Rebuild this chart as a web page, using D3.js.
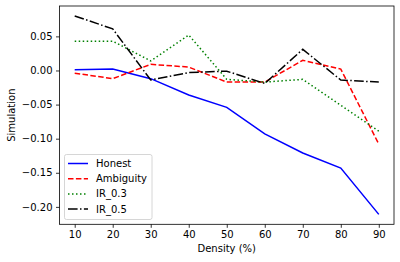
<!DOCTYPE html>
<html>
<head>
<meta charset="utf-8">
<script src="https://cdn.jsdelivr.net/npm/d3@7"></script>
<style>
  body { margin: 0; background: #fff; }
  svg { font-family: "DejaVu Sans", sans-serif; }
</style>
</head>
<body>
<svg id="chart" width="400" height="262"></svg>
<script>
// data
var density = [10, 20, 30, 40, 50, 60, 70, 80, 90];
var honest    = [0.001, 0.002, -0.012, -0.036, -0.054, -0.093, -0.121, -0.143, -0.211];
var ambiguity = [-0.004, -0.012, 0.009, 0.005, -0.017, -0.017, 0.015, 0.002, -0.108];
var ir03      = [0.043, 0.043, 0.014, 0.052, -0.013, -0.017, -0.013, -0.051, -0.089];
var ir05      = [0.080, 0.061, -0.014, -0.003, -0.001, -0.019, 0.031, -0.014, -0.017];
var xTicks = [10, 20, 30, 40, 50, 60, 70, 80, 90];
var yTicks = [0.05, 0.00, -0.05, -0.10, -0.15, -0.20];

var series = [
  {name: "Honest", values: honest, color: "blue", dash: null},
  {name: "Ambiguity", values: ambiguity, color: "red", dash: "5.5,2.4"},
  {name: "IR_0.3", values: ir03, color: "green", dash: "1.5,2.5"},
  {name: "IR_0.5", values: ir05, color: "black", dash: "9.6,2.4,1.5,2.4"}
];

var svg = d3.select("#chart");
var plotL = 59.5, plotR = 394, plotT = 6, plotB = 224.3;

// matplotlib style 5% margins
var xMin = d3.min(density), xMax = d3.max(density);
var xPad = (xMax - xMin) * 0.05;
var allVals = [].concat(honest, ambiguity, ir03, ir05);
var yMin = d3.min(allVals), yMax = d3.max(allVals);
var yPad = (yMax - yMin) * 0.05;

var x = d3.scaleLinear().domain([xMin - xPad, xMax + xPad]).range([plotL, plotR]);
var y = d3.scaleLinear().domain([yMin - yPad, yMax + yPad]).range([plotB, plotT]);

var fmt = function (d) { return d3.format(".2f")(d).replace("-", "\u2212"); };

// axes
var gx = svg.append("g")
  .attr("transform", "translate(0," + plotB + ")")
  .call(d3.axisBottom(x).tickValues(xTicks).tickSize(3.5).tickPadding(3.5));
var gy = svg.append("g")
  .attr("transform", "translate(" + plotL + ",0)")
  .call(d3.axisLeft(y).tickValues(yTicks).tickSize(3.5).tickPadding(3.5).tickFormat(fmt));

[gx, gy].forEach(function (g) {
  g.select(".domain").remove();
  g.selectAll("line").attr("stroke", "#000").attr("stroke-width", 0.8);
  g.selectAll("text").attr("fill", "#000").style("font-size", "10px")
    .style("font-family", "DejaVu Sans");
});

// lines
var line = d3.line()
  .x(function (d, i) { return x(density[i]); })
  .y(function (d) { return y(d); });

svg.append("g").selectAll("path")
  .data(series)
  .enter()
  .append("path")
  .attr("d", function (s) { return line(s.values); })
  .attr("fill", "none")
  .attr("stroke", function (s) { return s.color; })
  .attr("stroke-width", 1.5)
  .attr("stroke-dasharray", function (s) { return s.dash; });

// frame
svg.append("rect")
  .attr("x", plotL).attr("y", plotT)
  .attr("width", plotR - plotL).attr("height", plotB - plotT)
  .attr("fill", "none").attr("stroke", "#000").attr("stroke-width", 0.8);

// axis labels
svg.append("text")
  .attr("x", (plotL + plotR) / 2).attr("y", 252)
  .attr("text-anchor", "middle")
  .style("font-size", "10px")
  .text("Density (%)");
svg.append("text")
  .attr("transform", "translate(15," + ((plotT + plotB) / 2) + ") rotate(-90)")
  .attr("text-anchor", "middle")
  .style("font-size", "10px")
  .text("Simulation");

// legend
var lg = svg.append("g");
lg.append("rect")
  .attr("x", 64.5).attr("y", 154.5).attr("width", 87.5).attr("height", 65)
  .attr("rx", 2)
  .attr("fill", "#fff").attr("fill-opacity", 0.8)
  .attr("stroke", "#ccc").attr("stroke-width", 0.8);
var item = lg.selectAll("g.item")
  .data(series)
  .enter()
  .append("g")
  .attr("class", "item")
  .attr("transform", function (d, i) { return "translate(0," + (163.5 + i * 15.2) + ")"; });
item.append("line")
  .attr("x1", 68).attr("x2", 88)
  .attr("stroke", function (s) { return s.color; })
  .attr("stroke-width", 1.5)
  .attr("stroke-dasharray", function (s) { return s.dash; });
item.append("text")
  .attr("x", 96).attr("dy", "0.35em")
  .style("font-size", "10px")
  .text(function (s) { return s.name; });
</script>
</body>
</html>
